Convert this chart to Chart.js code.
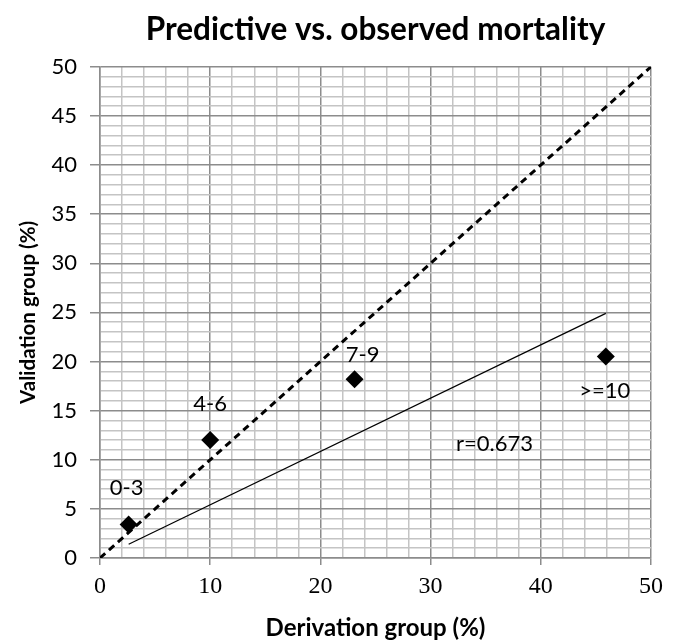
<!DOCTYPE html>
<html>
<head>
<meta charset="utf-8">
<script src="https://cdn.jsdelivr.net/npm/chart.js@4.4.0/dist/chart.umd.min.js"></script>
<style>
    html, body { margin: 0; padding: 0; background: #fff; }
    #wrap { width: 678px; height: 643px; position: relative; }
</style>
</head>
<body>
<div id="wrap"><canvas id="chart"></canvas></div>
<script>
// --- data ---
const groupLabels = ['0-3', '4-6', '7-9', '>=10'];
const derivation = [2.6, 10.0, 23.1, 45.9];   // x, %
const validation = [3.4, 12.0, 18.2, 20.5];   // y, %
const identityX = [0, 50];
const identityY = [0, 50];
const fitX = [2.6, 45.9];
const fitY = [1.4, 24.9];
const rText = 'r=0.673';
const rAt = [35.8, 11.6];
const xTicks = [0, 10, 20, 30, 40, 50];
const yTicks = [0, 5, 10, 15, 20, 25, 30, 35, 40, 45, 50];

const MAJOR = '#8c8c8c';
const MINOR = '#c4c4c4';
const SANS = 'Lato, "Noto Sans", sans-serif';

const toPoints = (xs, ys) => xs.map((x, i) => ({ x: x, y: ys[i] }));

// label offsets in px from each marker (centre of text)
const labelOffsets = [[-2, -37], [0, -36], [8, -24], [-1, 34]];

const labelPlugin = {
    id: 'pointLabels',
    afterDatasetsDraw(chart) {
        const { ctx, scales: { x, y } } = chart;
        ctx.save();
        ctx.fillStyle = '#000';
        ctx.font = '22px ' + SANS;
        ctx.textAlign = 'center';
        ctx.textBaseline = 'middle';
        groupLabels.forEach((lab, i) => {
            const px = x.getPixelForValue(derivation[i]) + labelOffsets[i][0];
            const py = y.getPixelForValue(validation[i]) + labelOffsets[i][1];
            ctx.fillText(lab, px, py);
        });
        ctx.fillText(rText, x.getPixelForValue(rAt[0]), y.getPixelForValue(rAt[1]));
        ctx.restore();
    }
};

new Chart(document.getElementById('chart'), {
    type: 'scatter',
    data: {
        datasets: [
            {
                label: 'groups',
                data: toPoints(derivation, validation),
                pointStyle: 'rectRot',
                pointRadius: 9,
                backgroundColor: '#000',
                borderColor: '#000',
                borderWidth: 0,
                showLine: false,
                order: 0
            },
            {
                label: 'identity',
                data: toPoints(identityX, identityY),
                showLine: true,
                borderColor: '#000',
                borderWidth: 3,
                borderDash: [7, 5],
                pointRadius: 0,
                order: 1
            },
            {
                label: 'fit',
                data: toPoints(fitX, fitY),
                showLine: true,
                borderColor: '#000',
                borderWidth: 1.2,
                pointRadius: 0,
                order: 2
            }
        ]
    },
    options: {
        responsive: true,
        maintainAspectRatio: false,
        animation: false,
        layout: { padding: { left: 0, right: 27, top: 0, bottom: 0 } },
        plugins: {
            legend: { display: false },
            tooltip: { enabled: false },
            title: {
                display: true,
                fullSize: false,
                text: 'Predictive vs. observed mortality',
                color: '#000',
                font: { family: SANS, size: 31.5, weight: 'bold' },
                padding: { top: 11, bottom: 18 }
            }
        },
        scales: {
            x: {
                type: 'linear',
                min: 0,
                max: 50,
                afterFit(scale) { scale.height = 85; },
                afterBuildTicks(scale) {
                    scale.ticks = [];
                    for (let v = 0; v <= 50; v += 2) scale.ticks.push({ value: v });
                },
                ticks: {
                    autoSkip: false,
                    maxRotation: 0,
                    color: '#000',
                    padding: 7,
                    font: { family: '"Liberation Serif", serif', size: 24 },
                    callback: (v) => xTicks.includes(v) ? String(v) : ''
                },
                grid: {
                    color: (c) => c.tick && c.tick.value % 10 === 0 ? MAJOR : MINOR,
                    lineWidth: 1.5,
                    tickColor: (c) => c.tick && c.tick.value % 10 === 0 ? MAJOR : 'rgba(0,0,0,0)',
                    tickLength: 7
                },
                border: { color: MAJOR, width: 1.5 },
                title: {
                    display: true,
                    text: 'Derivation group (%)',
                    color: '#000',
                    font: { family: SANS, size: 24, weight: 'bold' },
                    padding: { top: 0, bottom: 0 }
                }
            },
            y: {
                type: 'linear',
                min: 0,
                max: 50,
                afterFit(scale) { scale.width = 100; },
                afterBuildTicks(scale) {
                    scale.ticks = [];
                    for (let v = 0; v <= 50; v += 1) scale.ticks.push({ value: v });
                },
                ticks: {
                    autoSkip: false,
                    color: '#000',
                    padding: 13,
                    font: { family: SANS, size: 22 },
                    callback: (v) => yTicks.includes(v) ? String(v) : ''
                },
                grid: {
                    color: (c) => c.tick && c.tick.value % 5 === 0 ? MAJOR : MINOR,
                    lineWidth: 1.5,
                    tickColor: (c) => c.tick && c.tick.value % 5 === 0 ? MAJOR : 'rgba(0,0,0,0)',
                    tickLength: 10
                },
                border: { color: MAJOR, width: 1.5 },
                title: {
                    display: true,
                    text: 'Validation group (%)',
                    color: '#000',
                    font: { family: SANS, size: 20.5, weight: 'bold' },
                    padding: { top: 16, bottom: 0 }
                }
            }
        }
    },
    plugins: [labelPlugin]
});
</script>
</body>
</html>
